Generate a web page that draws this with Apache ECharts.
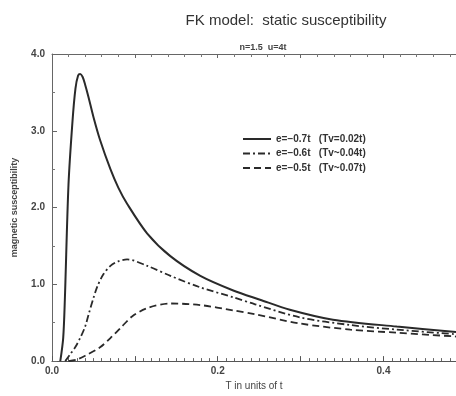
<!DOCTYPE html>
<html><head><meta charset="utf-8">
<script src="https://cdn.jsdelivr.net/npm/echarts@6/dist/echarts.min.js"></script>
<style>html,body{margin:0;padding:0;background:#fff}#c{width:456px;height:396px}</style>
</head><body><div id="c"></div>
<script>
// Data
const seriesNames = ["e=\u22120.7t   (Tv=0.02t)", "e=\u22120.6t   (Tv~0.04t)", "e=\u22120.5t   (Tv~0.07t)"];
const tSolid   = [0.010, 0.0135, 0.0155, 0.0199, 0.0247, 0.0283, 0.0315, 0.034, 0.037, 0.040, 0.044, 0.050, 0.058, 0.0705, 0.080, 0.0906, 0.1147, 0.1428, 0.179, 0.2187, 0.251, 0.287, 0.339, 0.416, 0.4875];
const chiSolid = [0.00, 0.30, 0.80, 2.30, 3.12, 3.55, 3.72, 3.74, 3.70, 3.60, 3.44, 3.18, 2.88, 2.50, 2.26, 2.05, 1.665, 1.367, 1.11, 0.92, 0.80, 0.67, 0.54, 0.45, 0.38];
const tDashDot   = [0.016, 0.022, 0.028, 0.034, 0.040, 0.0445, 0.050, 0.055, 0.062, 0.0705, 0.080, 0.0906, 0.115, 0.143, 0.179, 0.219, 0.245, 0.299, 0.360, 0.416, 0.4875];
const chiDashDot = [0.00, 0.09, 0.18, 0.30, 0.45, 0.62, 0.82, 0.98, 1.13, 1.24, 1.30, 1.325, 1.24, 1.11, 0.96, 0.83, 0.74, 0.57, 0.47, 0.41, 0.35];
const tDashed   = [0.020, 0.030, 0.040, 0.058, 0.0705, 0.0825, 0.0966, 0.1147, 0.143, 0.179, 0.219, 0.245, 0.299, 0.360, 0.416, 0.4875];
const chiDashed = [0.00, 0.02, 0.07, 0.18, 0.30, 0.43, 0.58, 0.69, 0.75, 0.73, 0.66, 0.61, 0.49, 0.41, 0.37, 0.32];
const xTickLabels = [0.0, 0.2, 0.4];

const pairs = (t, v) => t.map((x, i) => [x, v[i]]);
const FONT = "'Liberation Sans', Arial, Helvetica, sans-serif";
const ink = '#2a2a2a';

const chart = echarts.init(document.getElementById('c'), null, {renderer: 'canvas'});
chart.setOption({
  backgroundColor: '#fff',
  animation: false,
  title: [
    {text: 'FK model:  static susceptibility', left: 281, top: 8, textAlign: 'center',
     textStyle: {fontFamily: FONT, fontSize: 15, fontWeight: 'normal', color: '#333'}},
    {text: 'n=1.5  u=4t', left: 258, top: 38, textAlign: 'center',
     textStyle: {fontFamily: FONT, fontSize: 9, fontWeight: 'bold', color: '#444'}}
  ],
  legend: {
    orient: 'vertical', left: 237, top: 129, itemWidth: 28, itemHeight: 10, itemGap: 4.5,
    itemStyle: {opacity: 0},
    textStyle: {fontFamily: FONT, fontSize: 10, fontWeight: 'bold', color: '#333'},
    data: seriesNames
  },
  grid: {left: 52, right: 0, top: 54, bottom: 29, containLabel: false},
  xAxis: [{
    type: 'value', min: 0, max: 0.4875, interval: 0.1,
    name: 'T in units of t', nameLocation: 'middle', nameGap: 16,
    nameTextStyle: {fontFamily: FONT, fontSize: 10, color: '#444'},
    axisLine: {show: true, onZero: false, lineStyle: {color: '#555', width: 1.2}},
    axisTick: {show: true, inside: true, length: 5, lineStyle: {color: '#555'}},
    minorTick: {show: true, splitNumber: 10, length: 3, lineStyle: {color: '#666'}},
    splitLine: {show: false},
    axisLabel: {fontFamily: FONT, fontSize: 10, fontWeight: 'bold', color: '#444', margin: 5, showMaxLabel: false,
      formatter: v => xTickLabels.some(t => Math.abs(t - v) < 1e-6) ? v.toFixed(1) : ''}
  }, {
    type: 'value', position: 'top', min: 0, max: 0.4875, interval: 0.1,
    axisLine: {show: true, onZero: false, lineStyle: {color: '#666', width: 1}},
    axisTick: {show: true, inside: true, length: 4, lineStyle: {color: '#666'}},
    minorTick: {show: true, splitNumber: 5, length: 3, lineStyle: {color: '#777'}},
    splitLine: {show: false}, axisLabel: {show: false}
  }],
  yAxis: {
    type: 'value', min: 0, max: 4, interval: 1,
    name: 'magnetic susceptibility', nameLocation: 'middle', nameGap: 33, nameRotate: 90,
    nameTextStyle: {fontFamily: FONT, fontSize: 9, fontWeight: 'bold', color: '#444'},
    axisLine: {show: true, onZero: false, lineStyle: {color: '#666', width: 1}},
    axisTick: {show: true, inside: true, length: 5, lineStyle: {color: '#666'}},
    minorTick: {show: true, splitNumber: 2, length: 3, lineStyle: {color: '#777'}},
    splitLine: {show: false},
    axisLabel: {fontFamily: FONT, fontSize: 10, fontWeight: 'bold', color: '#444', margin: 7,
      formatter: v => v.toFixed(1)}
  },
  series: [
    {name: seriesNames[0], type: 'line', data: pairs(tSolid, chiSolid), symbol: 'none',
     smooth: 0.3, lineStyle: {color: ink, width: 2, type: 'solid'}, itemStyle: {color: ink}},
    {name: seriesNames[1], type: 'line', data: pairs(tDashDot, chiDashDot), symbol: 'none',
     smooth: 0.3, lineStyle: {color: ink, width: 1.8, type: [7, 3, 2, 3]}, itemStyle: {color: ink}},
    {name: seriesNames[2], type: 'line', data: pairs(tDashed, chiDashed), symbol: 'none',
     smooth: 0.3, lineStyle: {color: ink, width: 1.8, type: [7, 4]}, itemStyle: {color: ink}}
  ]
});
</script></body></html>
